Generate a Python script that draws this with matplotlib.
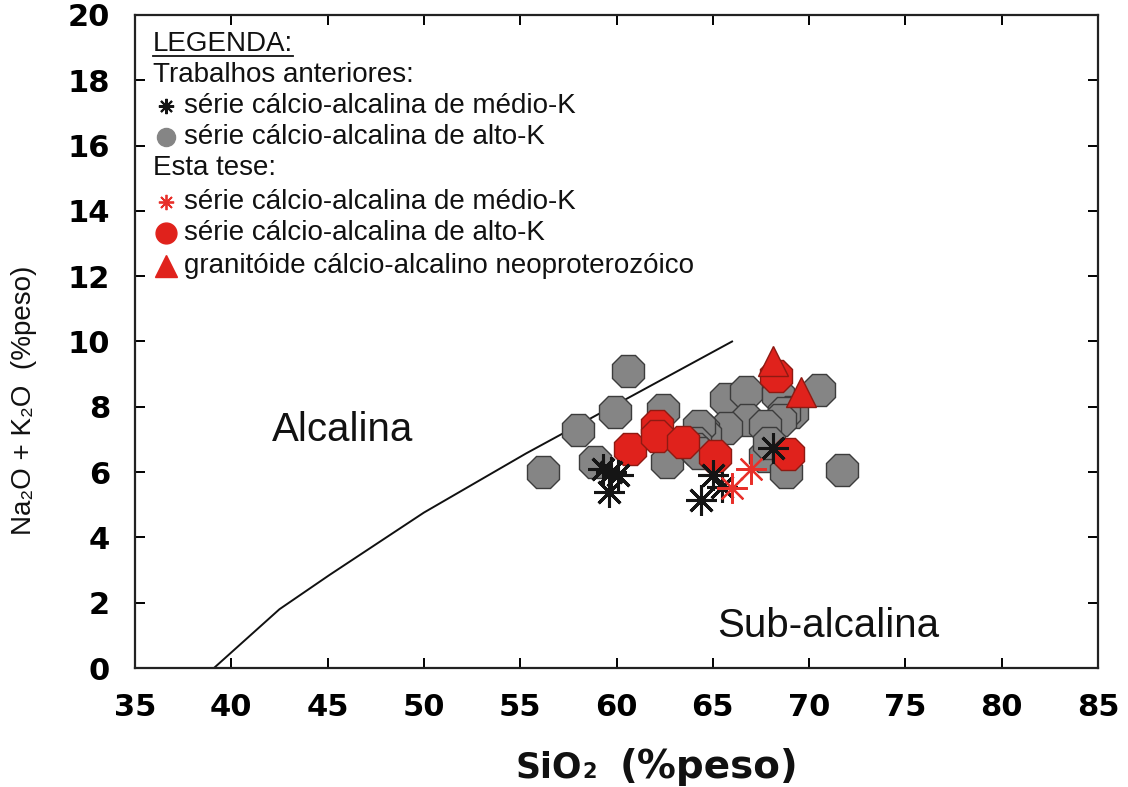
import matplotlib
matplotlib.use('Agg')
import matplotlib.pyplot as plt
from matplotlib.ticker import MultipleLocator

# divisoria alcalina / sub-alcalina (Irvine & Baragar 1971)
line_sio2 = [39.1, 42.5, 45.1, 50.0, 55.3, 66.0]
line_alk = [0.0, 1.8, 2.85, 4.76, 6.57, 10.0]

# Trabalhos anteriores
prev_medk_sio2 = [59.3, 59.7, 60.1, 59.6, 64.4, 65.0, 65.5, 68.1]
prev_medk_alk = [6.1, 6.0, 5.9, 5.4, 5.15, 5.9, 5.55, 6.75]

prev_altok_sio2 = [60.6, 59.9, 58.0, 56.2, 58.9, 62.4, 62.6, 65.7, 66.7, 68.4,
                   70.5, 69.1, 68.7, 68.5, 66.8, 67.7, 65.7, 64.5, 64.6, 64.3,
                   64.1, 64.1, 64.3, 67.7, 67.9, 68.8, 71.7]
prev_altok_alk = [9.1, 7.85, 7.3, 6.0, 6.3, 7.9, 6.3, 8.25, 8.45, 8.35,
                  8.5, 7.85, 7.8, 7.6, 7.6, 7.4, 7.35, 7.3, 7.15, 7.4,
                  6.9, 6.7, 6.6, 6.5, 6.9, 6.0, 6.05]

# Esta tese
tese_medk_sio2 = [66.0, 67.0]
tese_medk_alk = [5.5, 6.1]

tese_altok_sio2 = [60.7, 62.1, 62.1, 63.45, 65.1, 68.9, 68.3]
tese_altok_alk = [6.7, 7.4, 7.1, 6.93, 6.5, 6.55, 8.95]

granit_sio2 = [68.15, 69.6]
granit_alk = [9.4, 8.45]

legend_lines = ['Trabalhos anteriores:', 'série cálcio-alcalina de médio-K',
                'série cálcio-alcalina de alto-K', 'Esta tese:',
                'série cálcio-alcalina de médio-K', 'série cálcio-alcalina de alto-K',
                'granitóide cálcio-alcalino neoproterozóico']

GRAY = '#858585'
GRAY_EDGE = '#3c3c3c'
RED = '#e0221c'
RED_EDGE = '#8e1a12'
STAR = (8, 2, 0)

plt.rcParams['font.family'] = ['Liberation Sans', 'DejaVu Sans']

fig = plt.figure(figsize=(11.28, 7.87), dpi=100)
ax = fig.add_axes([135 / 1128, 119 / 787, 963 / 1128, 653 / 787])

ax.plot(line_sio2, line_alk, color='#111111', lw=1.4, zorder=2)

ax.plot(prev_altok_sio2, prev_altok_alk, ls='none', marker='8', ms=25,
        mfc=GRAY, mec=GRAY_EDGE, mew=1.0, zorder=3)
ax.plot(tese_altok_sio2, tese_altok_alk, ls='none', marker='8', ms=25,
        mfc=RED, mec=RED_EDGE, mew=1.0, zorder=4)
ax.plot(granit_sio2, granit_alk, ls='none', marker='^', ms=22,
        mfc=RED, mec=RED_EDGE, mew=1.0, zorder=5)
ax.plot(prev_medk_sio2, prev_medk_alk, ls='none', marker=STAR, ms=22,
        color='#151515', mew=2.2, zorder=6)
ax.plot(tese_medk_sio2, tese_medk_alk, ls='none', marker=STAR, ms=22,
        color='#e8302a', mew=1.6, zorder=6)

ax.set_xlim(35, 85)
ax.set_ylim(0, 20)
ax.xaxis.set_major_locator(MultipleLocator(5))
ax.set_xticks(range(40, 85, 10), minor=True)
ax.set_yticks(range(0, 21, 2))
ax.tick_params(axis='x', which='major', direction='in', length=7.5, width=1.4,
               top=True, pad=18, labelsize=22)
ax.tick_params(axis='x', which='minor', direction='in', length=11, width=1.4, top=True)
ax.tick_params(axis='y', which='major', direction='in', length=7, width=1.4,
               right=True, pad=18, labelsize=22)
for lab in ax.get_xticklabels() + ax.get_yticklabels():
    lab.set_fontfamily('DejaVu Sans')
    lab.set_fontweight('bold')
for sp in ax.spines.values():
    sp.set_linewidth(1.6)
    sp.set_color('#222222')

ax.text(45.8, 7.3, 'Alcalina', fontsize=29, ha='center', va='center', color='#111111')
ax.text(71.0, 1.3, 'Sub-alcalina', fontsize=29, ha='center', va='center', color='#111111')

# legenda desenhada a mao, como no original
def ax_xy(px, py):
    return (px - 135) / 963, (668 - py) / 653

tx, ty = ax_xy(153, 44)
t = ax.text(tx, ty, 'LEGENDA:', transform=ax.transAxes, fontsize=20,
            ha='left', va='center', color='#111111')
fig.canvas.draw()
bb = t.get_window_extent().transformed(ax.transAxes.inverted())
ax.plot([bb.x0, bb.x1], [bb.y0 + 0.002, bb.y0 + 0.002], transform=ax.transAxes,
        color='#111111', lw=1.3, clip_on=False)

rows_y = [75, 106, 137, 168, 202, 233, 266]
text_x = [153, 184, 184, 153, 184, 184, 184]
for lab, py, px in zip(legend_lines, rows_y, text_x):
    x, y = ax_xy(px, py)
    ax.text(x, y, lab, transform=ax.transAxes, fontsize=20, ha='left',
            va='center', color='#111111')

mx, _ = ax_xy(166, 0)
ax.plot(mx, ax_xy(0, 106)[1], transform=ax.transAxes, marker=STAR, ms=11,
        color='#151515', mew=1.5)
ax.plot(mx, ax_xy(0, 137)[1], transform=ax.transAxes, marker='o', ms=13,
        mfc=GRAY, mec=GRAY)
ax.plot(mx, ax_xy(0, 202)[1], transform=ax.transAxes, marker=STAR, ms=11,
        color='#e8302a', mew=1.3)
ax.plot(mx, ax_xy(0, 233)[1], transform=ax.transAxes, marker='o', ms=15,
        mfc=RED, mec=RED)
ax.plot(mx, ax_xy(0, 266)[1], transform=ax.transAxes, marker='^', ms=16,
        mfc=RED, mec=RED)

# rotulos dos eixos
base_y = (787 - 778) / 787
s1 = fig.text(515 / 1128, base_y, 'SiO', fontsize=25, fontweight='bold',
              family=['DejaVu Sans'], ha='left', va='baseline', color='#111111')
fig.canvas.draw()
x_end = s1.get_window_extent().x1 / 1128
fig.text(x_end + 1 / 1128, base_y, '2', fontsize=15, fontweight='bold',
         family=['DejaVu Sans'], ha='left', va='baseline', color='#111111')
fig.text(620 / 1128, base_y, '(%peso)', fontsize=28, fontweight='bold',
         family=['DejaVu Sans'], ha='left', va='baseline', color='#111111')
fig.text(24 / 1128, (787 - 400) / 787, 'Na₂O + K₂O  (%peso)', fontsize=20,
         rotation=90, ha='center', va='center', color='#111111')

fig.savefig('out.png', dpi=100)
